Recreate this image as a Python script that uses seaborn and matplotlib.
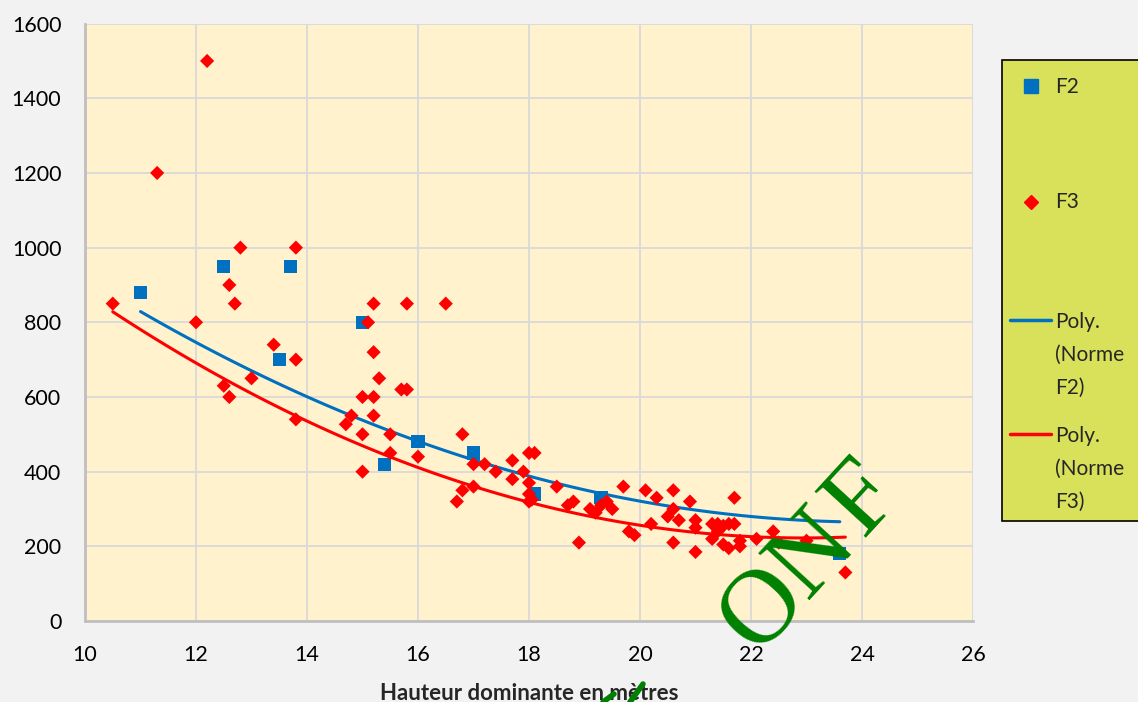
import matplotlib.pyplot as plt
from matplotlib.lines import Line2D
from matplotlib.patches import Rectangle
import pandas as pd
import seaborn as sns

# values
f2_x = [11.0, 12.5, 13.5, 13.7, 15.0, 15.4, 16.0, 17.0, 18.1, 19.3, 23.6]
f2_y = [880, 950, 700, 950, 800, 420, 480, 450, 340, 330, 180]

f3_x = [10.5, 11.3, 12.0, 12.2, 12.5, 12.6, 12.6, 12.7, 12.8, 13.0, 13.4, 13.8, 13.8, 13.8,
        14.7, 14.8, 15.0, 15.0, 15.0, 15.1, 15.2, 15.2, 15.2, 15.2, 15.3, 15.5, 15.5, 15.7,
        15.8, 15.8, 16.0, 16.5, 16.7, 16.8, 16.8, 17.0, 17.0, 17.2, 17.4, 17.7, 17.7, 17.9,
        18.0, 18.1, 18.0, 18.0, 18.05, 18.0, 18.5, 18.7, 18.8, 18.9, 19.1, 19.2, 19.3, 19.4,
        19.5, 19.7, 19.8, 19.9, 20.1, 20.2, 20.3, 20.5, 20.6, 20.6, 20.6, 20.7, 20.9, 21.0,
        21.0, 21.0, 21.3, 21.3, 21.4, 21.4, 21.5, 21.5, 21.6, 21.6, 21.7, 21.7, 21.8, 21.8,
        22.1, 22.4, 22.5, 23.0, 23.7]
f3_y = [850, 1200, 800, 1500, 630, 900, 600, 850, 1000, 650, 740, 1000, 700, 540,
        527, 550, 600, 500, 400, 800, 850, 720, 600, 550, 650, 500, 450, 620,
        620, 850, 440, 850, 320, 500, 350, 420, 360, 420, 400, 430, 380, 400,
        450, 450, 370, 340, 325, 320, 360, 310, 320, 210, 300, 290, 310, 320,
        300, 360, 240, 230, 350, 260, 330, 280, 350, 300, 210, 270, 320, 270,
        250, 185, 260, 220, 260, 240, 255, 205, 260, 195, 330, 260, 215, 200,
        220, 240, 210, 215, 130]

# "Norme" series (not drawn as points, only their polynomial trend)
norme_f2_x = [11.0, 12.0, 14.0, 16.0, 18.0, 20.0, 22.0, 23.6]
norme_f2_y = [828, 748, 597, 487, 386, 319, 281, 266]
norme_f3_x = [10.5, 12.0, 14.0, 16.0, 18.0, 20.0, 22.0, 23.7]
norme_f3_y = [831, 694, 520, 420, 319, 257, 228, 222]

x_ticks = list(range(10, 27, 2))
y_ticks = list(range(0, 1601, 200))
legend_labels = ['F2', 'F3', 'Poly.\n(Norme\nF2)', 'Poly.\n(Norme\nF3)']

blue = '#0070C0'
red = '#FF0000'

sns.set_theme(style='white')
plt.rcParams['font.family'] = ['Lato', 'DejaVu Sans']

W, H = 1138, 702
fig = plt.figure(figsize=(W / 100, H / 100), dpi=100, facecolor='#F2F2F2')
ax = fig.add_axes([85 / W, (H - 621) / H, 888 / W, 597.4 / H])
ax.set_facecolor('#FFF2CC')

df2 = pd.DataFrame({'h': f2_x, 'n': f2_y})
df3 = pd.DataFrame({'h': f3_x, 'n': f3_y})
dn2 = pd.DataFrame({'h': norme_f2_x, 'n': norme_f2_y})
dn3 = pd.DataFrame({'h': norme_f3_x, 'n': norme_f3_y})

# polynomial (order 2) trend lines of the Norme series
sns.regplot(data=dn2, x='h', y='n', order=2, ci=None, scatter=False, truncate=True,
            color=blue, line_kws={'lw': 2.2, 'zorder': 2.5}, ax=ax)
sns.regplot(data=dn3, x='h', y='n', order=2, ci=None, scatter=False, truncate=True,
            color=red, line_kws={'lw': 2.2, 'zorder': 2.6}, ax=ax)

sns.scatterplot(data=df2, x='h', y='n', marker='s', s=92, color=blue,
                edgecolor='none', ax=ax, zorder=3, legend=False)
sns.scatterplot(data=df3, x='h', y='n', marker='D', s=52, color=red,
                edgecolor='none', ax=ax, zorder=4, legend=False)

ax.set_xlim(10, 26)
ax.set_ylim(0, 1600)
ax.set_xticks(x_ticks)
ax.set_yticks(y_ticks)
ax.grid(True, color='#D9D9D9', lw=1.3)
ax.set_axisbelow(True)
for s in ['top', 'right']:
    ax.spines[s].set_visible(False)
for s in ['left', 'bottom']:
    ax.spines[s].set_color('#BFBFBF')
    ax.spines[s].set_linewidth(2)
ax.tick_params(axis='x', length=0, labelsize=15.5, pad=17, colors='black')
ax.tick_params(axis='y', length=0, labelsize=15.5, pad=17, colors='black')
ax.set_xlabel('Hauteur dominante en mètres', fontweight='bold', fontsize=16, labelpad=13)
ax.set_ylabel('')

# ONF stamp, one letter at a time along a tilted baseline
stamp_letters = ['O', 'N', 'F']
stamp_x = [22.57, 23.47, 24.37]
stamp_y = [-13, 132, 279]
for letter, lx, ly in zip(stamp_letters, stamp_x, stamp_y):
    ax.text(lx, ly, letter, rotation=47.5, rotation_mode='anchor', ha='center', va='baseline',
            fontsize=76, color='#008000', family=['Liberation Serif', 'DejaVu Serif'],
            zorder=6, clip_on=False)
fig.add_artist(Line2D([603 / W, 614 / W], [(H - 702) / H, (H - 694) / H], color='#008000', lw=4))
fig.add_artist(Line2D([630 / W, 643 / W], [(H - 702) / H, (H - 684) / H], color='#008000', lw=4))

# legend box
fig.add_artist(Rectangle((1002 / W, (H - 521) / H), 200 / W, 461 / H, transform=fig.transFigure,
                         facecolor='#D9E15B', edgecolor='black', lw=1.2))
fig.add_artist(Line2D([1031 / W], [(H - 86) / H], marker='s', ms=9.4, color=blue, ls='none'))
fig.add_artist(Line2D([1031 / W], [(H - 202) / H], marker='D', ms=7, color=red, ls='none'))
fig.add_artist(Line2D([1010 / W, 1051 / W], [(H - 320) / H] * 2, color=blue, lw=2.5))
fig.add_artist(Line2D([1010 / W, 1051 / W], [(H - 434) / H] * 2, color=red, lw=2.5))

label_tops = [87, 202, 322, 436]
for lab, top in zip(legend_labels, label_tops):
    for i, line in enumerate(lab.split('\n')):
        fig.text(1055 / W, (H - top - i * 33) / H, line, va='center', ha='left', fontsize=15)

fig.savefig('out.png', dpi=100, facecolor=fig.get_facecolor())
